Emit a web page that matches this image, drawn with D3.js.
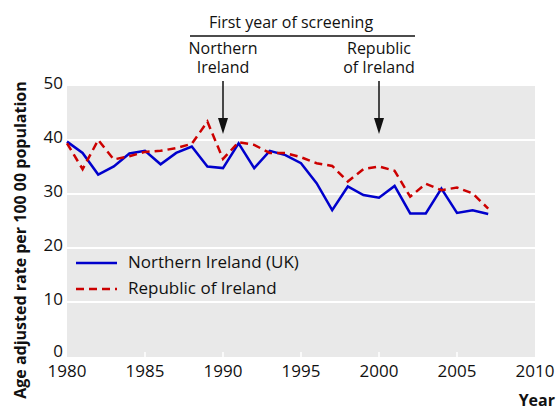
<!DOCTYPE html>
<html>
<head>
<meta charset="utf-8">
<script src="https://cdn.jsdelivr.net/npm/d3@7"></script>
<style>
  body { margin: 0; background: #fff; }
  text { font-family: "Open Sans", sans-serif; fill: #111; }
</style>
</head>
<body>
<svg id="chart" width="558" height="412"></svg>
<script>
// data
const years = d3.range(1980, 2008);
const northernIreland = [39.7, 37.6, 33.6, 35.1, 37.5, 38.0, 35.5, 37.6, 38.8, 35.1,
    34.8, 39.4, 34.8, 38.0, 37.2, 35.7, 32.0, 27.0, 31.4, 29.8,
    29.3, 31.5, 26.4, 26.4, 31.0, 26.5, 27.0, 26.3];
const republicOfIreland = [39.4, 34.6, 40.0, 36.4, 37.0, 37.8, 38.0, 38.5, 39.3, 43.4,
    36.5, 39.6, 39.1, 37.6, 37.6, 36.8, 35.7, 35.2, 32.3, 34.6,
    35.1, 34.3, 29.5, 31.9, 30.7, 31.2, 30.1, 27.3];
const xTicks = [1980, 1985, 1990, 1995, 2000, 2005, 2010];
const yTicks = [0, 10, 20, 30, 40, 50];
const screening = [
    {year: 1990, lines: ["Northern", "Ireland"]},
    {year: 2000, lines: ["Republic", "of Ireland"]}
];
const seriesNames = ["Northern Ireland (UK)", "Republic of Ireland"];

const svg = d3.select("#chart");
const plotLeft = 67, plotRight = 535, plotTop = 86, plotBottom = 356;

let x = d3.scaleLinear().domain([1980, 2010]).range([plotLeft, plotRight]);
let y = d3.scaleLinear().domain([0, 50]).range([plotBottom, plotTop]);

// grey panel
svg.append("rect")
   .attr("x", plotLeft).attr("y", plotTop)
   .attr("width", plotRight - plotLeft).attr("height", plotBottom - plotTop + 1)
   .attr("fill", "#e9e9e9");

// white gridlines
svg.selectAll("line.grid")
   .data(yTicks.filter(d => d > 0 && d < 50))
   .enter().append("line")
   .attr("class", "grid")
   .attr("x1", plotLeft).attr("x2", plotRight)
   .attr("y1", d => y(d)).attr("y2", d => y(d))
   .attr("stroke", "#fff").attr("stroke-width", 2);

// small white ticks along the bottom
svg.selectAll("line.xtick")
   .data(xTicks.slice(1, -1))
   .enter().append("line")
   .attr("class", "xtick")
   .attr("x1", d => x(d)).attr("x2", d => x(d))
   .attr("y1", plotBottom + 1).attr("y2", plotBottom - 4)
   .attr("stroke", "#fff").attr("stroke-width", 1.5);

// tick labels
svg.selectAll("text.ylab")
   .data(yTicks)
   .enter().append("text")
   .attr("class", "ylab")
   .attr("x", plotLeft - 4).attr("y", d => y(d) - (d === 0 ? 4 : 2))
   .attr("text-anchor", "end")
   .attr("dominant-baseline", "middle")
   .style("font-size", "17px")
   .text(d => d);

svg.selectAll("text.xlab")
   .data(xTicks)
   .enter().append("text")
   .attr("class", "xlab")
   .attr("x", d => x(d)).attr("y", plotBottom + 21)
   .attr("text-anchor", "middle")
   .style("font-size", "17px")
   .text(d => d);

// axis titles
svg.append("text")
   .attr("transform", "translate(26,240) rotate(-90)")
   .attr("text-anchor", "middle")
   .style("font-size", "16px").style("font-weight", "bold")
   .text("Age adjusted rate per 100 00 population");

svg.append("text")
   .attr("x", 555).attr("y", 406)
   .attr("text-anchor", "end")
   .style("font-size", "16px").style("font-weight", "bold")
   .text("Year");

// lines
let line = function(values) {
    return d3.line()
             .x((d, i) => x(years[i]))
             .y(d => y(d))(values);
};

svg.append("path")
   .attr("d", line(northernIreland))
   .attr("fill", "none")
   .attr("stroke", "#0000cc").attr("stroke-width", 2.5);

svg.append("path")
   .attr("d", line(republicOfIreland))
   .attr("fill", "none")
   .attr("stroke", "#cc0000").attr("stroke-width", 2.5)
   .attr("stroke-dasharray", "8,5");

// legend
let legend = svg.append("g");
seriesNames.forEach(function(name, i) {
    let ly = 263 + i * 26;
    legend.append("line")
          .attr("x1", 76).attr("x2", 117)
          .attr("y1", ly).attr("y2", ly)
          .attr("stroke", i === 0 ? "#0000cc" : "#cc0000")
          .attr("stroke-width", 2.5)
          .attr("stroke-dasharray", i === 0 ? null : "8,5");
    legend.append("text")
          .attr("x", 128).attr("y", ly)
          .attr("dominant-baseline", "middle")
          .style("font-size", "17px")
          .text(name);
});

// screening annotation
svg.append("text")
   .attr("x", 291).attr("y", 28)
   .attr("text-anchor", "middle")
   .style("font-size", "16px")
   .text("First year of screening");

svg.append("line")
   .attr("x1", 190).attr("x2", 415)
   .attr("y1", 36).attr("y2", 36)
   .attr("stroke", "#111").attr("stroke-width", 1.5);

screening.forEach(function(s) {
    s.lines.forEach(function(t, i) {
        svg.append("text")
           .attr("x", x(s.year)).attr("y", 54 + i * 19)
           .attr("text-anchor", "middle")
           .style("font-size", "16px")
           .text(t);
    });
    svg.append("line")
       .attr("x1", x(s.year)).attr("x2", x(s.year))
       .attr("y1", 81).attr("y2", 120)
       .attr("stroke", "#111").attr("stroke-width", 1.5);
    svg.append("path")
       .attr("d", `M${x(s.year) - 5},118 L${x(s.year) + 5},118 L${x(s.year)},134 Z`)
       .attr("fill", "#111");
});
</script>
</body>
</html>
